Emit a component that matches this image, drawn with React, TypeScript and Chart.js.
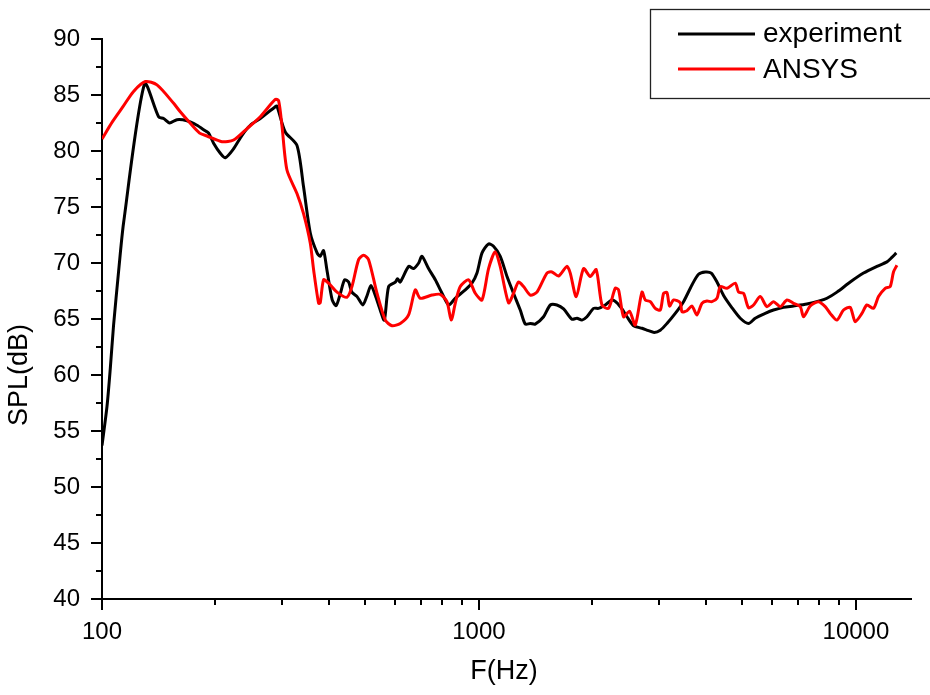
import React, { useEffect, useRef } from 'react';
import { Chart, registerables } from 'chart.js';

Chart.register(...registerables);

// ---- Data ----
const expFreq = [
  100, 103.1, 105.2, 107.3, 110.7, 114.1, 129.7, 141.3, 145.7, 151.1,
  158.1, 168.1, 178.6, 187.9, 191.8, 197.7, 206.0, 212.4, 223.4, 235.2,
  247.4, 263.0, 288.2, 291.2, 306.3, 329.0, 342.5, 357, 372, 379,
  387, 395, 408, 418, 429, 440, 451, 460, 475, 492,
  505, 517, 531, 547, 561, 576, 600, 608, 618, 651,
  671, 692, 706, 735, 766, 798, 831, 865, 920, 958,
  988, 1019, 1060, 1093, 1139, 1187, 1235, 1287, 1327, 1368,
  1410, 1484, 1546, 1610, 1677, 1765, 1820, 1876, 1934, 2014,
  2076, 2163, 2253, 2323, 2395, 2470, 2571, 2707, 2818, 2917,
  3027, 3153, 3317, 3489, 3673, 3824, 3985, 4133, 4280, 4456,
  4691, 4934, 5190, 5406, 5746, 6044, 6427, 6830, 7413, 8041,
  8379, 8906, 9658, 10476, 11369, 12085, 12459, 12795,
];
const expSPL = [
  53.7, 57.2, 60.6, 64.4, 69.3, 73.6, 86.0, 83.06, 82.9, 82.5,
  82.8, 82.7, 82.3, 81.8, 81.6, 80.7, 79.8, 79.4, 80.2, 81.4,
  82.3, 82.9, 83.95, 84.0, 81.7, 80.5, 76.8, 72.65, 70.9, 70.6,
  71.1, 69.4, 66.7, 66.2, 67.3, 68.5, 68.3, 67.4, 67.0, 66.25,
  67.1, 68.0, 67.1, 65.8, 64.9, 67.9, 68.3, 68.6, 68.3, 69.7,
  69.5, 70.0, 70.6, 69.5, 68.5, 67.3, 66.25, 66.85, 67.6, 68.2,
  69.1, 70.9, 71.7, 71.5, 70.6, 68.8, 67.3, 65.8, 64.55, 64.6,
  64.55, 65.2, 66.25, 66.25, 65.9, 64.98, 65.07, 64.9, 65.2, 65.95,
  65.95, 66.25, 66.7, 66.45, 65.9, 65.2, 64.4, 64.17, 63.96, 63.8,
  64.0, 64.6, 65.5, 66.55, 68.04, 69.0, 69.2, 69.1, 68.3, 67.1,
  66.0, 65.07, 64.6, 65.07, 65.5, 65.8, 66.04, 66.16, 66.34, 66.64,
  66.85, 67.4, 68.3, 69.1, 69.7, 70.1, 70.5, 70.9,
];

const ansysFreq = [
  100, 106.5, 113.9, 121.1, 130.3, 139.9, 154.9, 161.3, 171.5, 181.5,
  189.9, 208.1, 223.4, 242.5, 263.0, 288.2, 294.1, 300.3, 309.5, 329.0,
  342.5, 356.9, 364.2, 375.5, 379.3, 387.1, 399.1, 420.2, 446.6, 460.4,
  479.4, 494.3, 509.6, 536.4, 564.4, 587.9, 618.4, 650.6, 677.7, 698.7,
  750.4, 789.4, 822.4, 844.3, 865.2, 892.1, 938.5, 977.7, 1018.6, 1060.5,
  1104.6, 1138.9, 1198.1, 1235.3, 1273.5, 1312.9, 1368.0, 1425.0, 1514.9, 1561.7,
  1625.9, 1711.6, 1746.6, 1811.7, 1894, 1973, 2047, 2120, 2207, 2299,
  2346, 2419, 2509, 2598, 2707, 2762, 2848, 2935, 3027, 3089,
  3153, 3204, 3283, 3420, 3456, 3562, 3673, 3787, 3904, 4025,
  4150, 4280, 4368, 4550, 4786, 4883, 5034, 5190, 5351, 5575,
  5807, 6044, 6302, 6561, 6830, 7118, 7262, 7565, 7959, 8291,
  8548, 8906, 9271, 9658, 9957, 10373, 10695, 11134, 11479, 11958,
  12330, 12580, 12846,
];
const ansysSPL = [
  81.07, 82.6, 84.0, 85.3, 86.2, 85.9, 84.26, 83.5, 82.47, 81.6,
  81.34, 80.83, 80.98, 82.0, 83.06, 84.6, 84.5, 82.2, 78.3, 76.2,
  74.4, 71.76, 69.4, 66.4, 66.45, 68.5, 68.2, 67.4, 66.94, 67.9,
  70.3, 70.7, 70.3, 67.3, 64.9, 64.4, 64.6, 65.36, 67.6, 66.85,
  67.14, 67.2, 66.55, 64.9, 66.4, 67.9, 68.5, 67.3, 66.7, 69.5,
  71.0, 69.67, 66.45, 67.3, 68.3, 67.9, 67.14, 67.4, 69.1, 69.2,
  68.84, 69.7, 69.1, 67.0, 69.5, 68.8, 69.4, 66.25, 65.95, 67.74,
  67.6, 65.2, 65.7, 64.46, 67.4, 66.7, 66.55, 65.95, 65.8, 67.3,
  67.35, 66.16, 66.7, 66.45, 65.65, 65.74, 66.16, 65.36, 66.4, 66.6,
  66.55, 66.85, 67.9, 67.74, 68.2, 67.4, 67.3, 66.0, 66.25, 67.0,
  66.1, 66.55, 66.1, 66.7, 66.4, 66.1, 65.2, 66.16, 66.55, 66.1,
  65.5, 64.9, 65.8, 66.04, 64.76, 65.5, 66.25, 65.95, 67.0, 67.74,
  67.9, 69.2, 69.8,
];

const seriesLabels = ['experiment', 'ANSYS'];
const seriesColors = ['#000000', '#ff0000'];
const xMajorTicks = [100, 1000, 10000];
const yMin = 40;
const yMax = 90;
const yStep = 5;
const xMin = 100;
const xMax = 14000;
const xTitle = 'F(Hz)';
const yTitle = 'SPL(dB)';

const FONT = "'Liberation Sans', Arial, Helvetica, sans-serif";

function pairs(xs: number[], ys: number[]) {
  const n = Math.min(xs.length, ys.length);
  const out: { x: number; y: number }[] = [];
  for (let i = 0; i < n; i++) out.push({ x: xs[i], y: ys[i] });
  return out;
}

export default function App() {
  const canvasRef = useRef<HTMLCanvasElement | null>(null);

  useEffect(() => {
    const canvas = canvasRef.current;
    if (!canvas) return;

    const decor = {
      id: 'decor',
      afterDraw(chart: any) {
        const { ctx, chartArea } = chart;
        const xs = chart.scales.x;
        const ys = chart.scales.y;
        ctx.save();
        ctx.strokeStyle = '#000';
        ctx.lineWidth = 2;
        ctx.lineCap = 'butt';
        // y ticks (major + minor)
        for (let v = yMin; v <= yMax + 1e-9; v += yStep / 2) {
          const py = Math.round(ys.getPixelForValue(v));
          const major = Math.abs(v / yStep - Math.round(v / yStep)) < 1e-6;
          const len = major ? 11 : 6;
          ctx.beginPath();
          ctx.moveTo(chartArea.left - len, py);
          ctx.lineTo(chartArea.left, py);
          ctx.stroke();
        }
        // x ticks (log major + minor)
        for (const dec of xMajorTicks) {
          for (let m = 1; m <= 9; m++) {
            const val = dec * m;
            if (val < xMin || val > xMax) continue;
            const px = Math.round(xs.getPixelForValue(val));
            const len = m === 1 ? 11 : 6;
            ctx.beginPath();
            ctx.moveTo(px, chartArea.bottom);
            ctx.lineTo(px, chartArea.bottom + len);
            ctx.stroke();
          }
        }
        // axis titles
        ctx.fillStyle = '#000';
        ctx.font = `27px ${FONT}`;
        ctx.textAlign = 'center';
        ctx.textBaseline = 'middle';
        ctx.fillText(xTitle, 504, 672);
        ctx.save();
        ctx.translate(20, 375);
        ctx.rotate(-Math.PI / 2);
        ctx.fillText(yTitle, 0, 0);
        ctx.restore();

        // legend
        ctx.lineWidth = 1.3;
        ctx.strokeStyle = '#222';
        ctx.strokeRect(650.5, 9.5, 300, 89);
        const lineYs = [34, 69];
        const textYs = [42, 78];
        ctx.font = `28px ${FONT}`;
        ctx.textAlign = 'left';
        ctx.textBaseline = 'alphabetic';
        chart.data.datasets.forEach((ds: any, i: number) => {
          ctx.strokeStyle = ds.borderColor;
          ctx.lineWidth = 3;
          ctx.beginPath();
          ctx.moveTo(678, lineYs[i]);
          ctx.lineTo(755, lineYs[i]);
          ctx.stroke();
          ctx.fillStyle = '#000';
          ctx.fillText(ds.label, 763, textYs[i]);
        });
        ctx.restore();
      },
    };

    const chart = new Chart(canvas, {
      type: 'line',
      data: {
        datasets: [
          {
            label: seriesLabels[0],
            data: pairs(expFreq, expSPL),
            borderColor: seriesColors[0],
            borderWidth: 3,
            pointRadius: 0,
            tension: 0.25,
            fill: false,
            order: 2,
          },
          {
            label: seriesLabels[1],
            data: pairs(ansysFreq, ansysSPL),
            borderColor: seriesColors[1],
            borderWidth: 3,
            pointRadius: 0,
            tension: 0.25,
            fill: false,
            order: 1,
          },
        ],
      },
      options: {
        responsive: false,
        animation: false,
        devicePixelRatio: 1,
        layout: { padding: { left: 0, top: 39, right: 19, bottom: 0 } },
        plugins: {
          legend: { display: false },
          tooltip: { enabled: false },
          title: { display: false },
        },
        scales: {
          x: {
            type: 'logarithmic',
            min: xMin,
            max: xMax,
            grid: { display: false },
            border: { display: true, color: '#000', width: 2 },
            afterBuildTicks: (scale: any) => {
              scale.ticks = xMajorTicks.map((v) => ({ value: v }));
            },
            afterFit: (scale: any) => {
              scale.height = 96;
            },
            ticks: {
              autoSkip: false,
              maxRotation: 0,
              color: '#000',
              padding: 11,
              font: { family: FONT, size: 24 },
              callback: (v: any) => String(v),
            },
          },
          y: {
            type: 'linear',
            min: yMin,
            max: yMax,
            grid: { display: false },
            border: { display: true, color: '#000', width: 2 },
            afterFit: (scale: any) => {
              scale.width = 102;
            },
            ticks: {
              stepSize: yStep,
              color: '#000',
              padding: 14,
              font: { family: FONT, size: 24 },
            },
          },
        },
      },
      plugins: [decor],
    });

    return () => chart.destroy();
  }, []);

  return (
    <div style={{ position: 'absolute', left: 0, top: 0, width: 930, height: 695, background: '#fff' }}>
      <canvas ref={canvasRef} width={930} height={695} style={{ display: 'block' }} />
    </div>
  );
}
